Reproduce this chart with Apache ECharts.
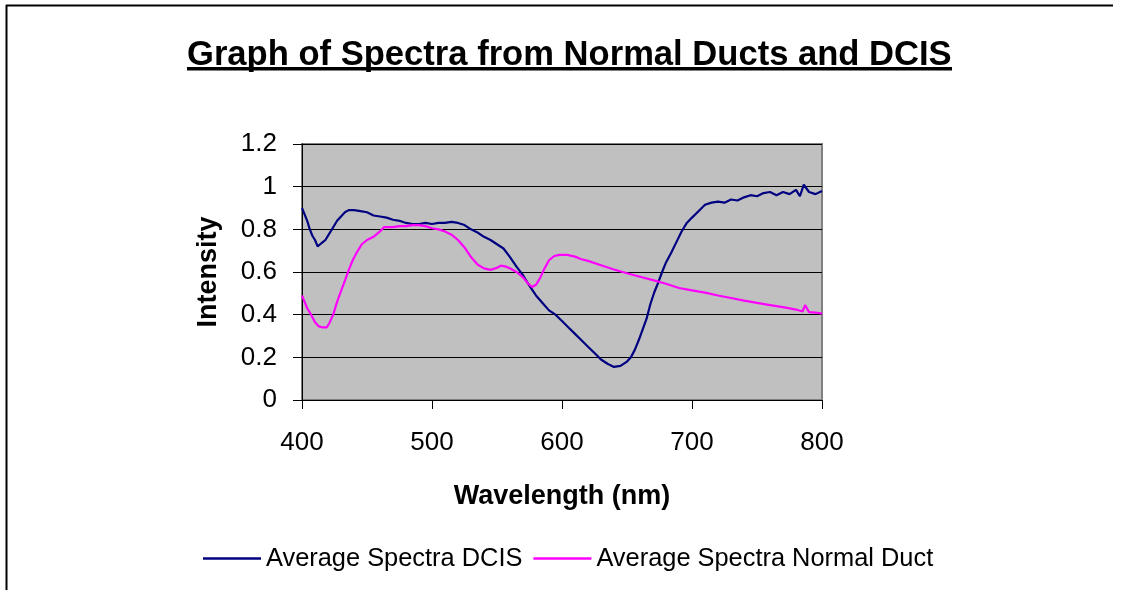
<!DOCTYPE html>
<html>
<head>
<meta charset="utf-8">
<script src="https://cdn.jsdelivr.net/npm/echarts@6/dist/echarts.min.js"></script>
<style>
html,body{margin:0;padding:0;background:#fff;}
#chart{width:1123px;height:590px;}
</style>
</head>
<body>
<div id="chart"></div>
<script>
// ---- Data ----
var titleText = 'Graph of Spectra from Normal Ducts and DCIS';
var xAxisTitle = 'Wavelength (nm)';
var yAxisTitle = 'Intensity';
var seriesNames = ['Average Spectra DCIS', 'Average Spectra Normal Duct'];
var xTicks = [400, 500, 600, 700, 800];
var yTicks = [0, 0.2, 0.4, 0.6, 0.8, 1, 1.2];

var dcisWavelength = [400,402,404,406,408,410,412,414,416,418,421,424,427,430,433,436,440,445,450,455,460,465,470,475,480,485,490,495,500,505,510,515,520,525,530,535,540,545,550,555,560,565,570,575,580,585,590,595,600,605,610,615,620,625,630,635,640,645,650,653,656,659,662,665,668,671,674,677,680,684,688,692,696,700,705,710,715,720,725,730,735,740,745,750,755,760,765,770,775,780,783,786,790,795,800];
var dcisIntensity = [0.90,0.87,0.84,0.80,0.77,0.75,0.72,0.73,0.74,0.75,0.78,0.81,0.84,0.86,0.88,0.89,0.89,0.885,0.88,0.865,0.86,0.855,0.845,0.84,0.83,0.825,0.825,0.83,0.825,0.83,0.83,0.835,0.83,0.82,0.80,0.785,0.765,0.75,0.73,0.71,0.67,0.625,0.585,0.535,0.49,0.455,0.42,0.40,0.37,0.34,0.31,0.28,0.25,0.22,0.19,0.17,0.155,0.16,0.18,0.20,0.235,0.28,0.33,0.38,0.45,0.505,0.55,0.60,0.645,0.69,0.74,0.79,0.83,0.855,0.885,0.915,0.925,0.93,0.925,0.94,0.935,0.95,0.96,0.955,0.97,0.975,0.96,0.975,0.965,0.985,0.955,1.01,0.975,0.965,0.98];

var normalWavelength = [400,402,404,407,410,413,416,419,421,424,427,430,433,436,439,442,446,450,455,460,463,470,475,480,485,490,495,500,505,510,515,520,525,530,535,540,545,550,553,557,560,565,570,574,577,580,583,586,590,594,598,604,610,615,620,630,640,650,660,670,680,690,700,710,720,730,740,750,760,770,780,785,787,790,795,800];
var normalIntensity = [0.49,0.46,0.43,0.40,0.365,0.345,0.34,0.34,0.36,0.40,0.46,0.51,0.56,0.61,0.655,0.69,0.73,0.75,0.765,0.79,0.81,0.81,0.815,0.815,0.82,0.82,0.815,0.805,0.80,0.79,0.775,0.75,0.715,0.67,0.635,0.617,0.61,0.62,0.63,0.625,0.617,0.60,0.575,0.545,0.53,0.54,0.57,0.61,0.655,0.675,0.68,0.68,0.672,0.66,0.652,0.632,0.612,0.594,0.578,0.562,0.545,0.525,0.514,0.503,0.49,0.478,0.466,0.455,0.445,0.435,0.424,0.415,0.445,0.412,0.41,0.405];

function pairs(xs, ys){ var out=[]; for(var i=0;i<xs.length;i++){ out.push([xs[i], ys[i]]); } return out; }

var FONT = 'Arial, "Liberation Sans", sans-serif';
var chart = echarts.init(document.getElementById('chart'), null, {renderer:'canvas'});
chart.setOption({
  animation: false,
  backgroundColor: '#ffffff',
  title: {
    text: titleText,
    left: 182,
    top: 33,
    textStyle: {fontFamily: FONT, fontSize: 34.6, fontWeight: 'bold', color: '#000'}
  },
  legend: {
    bottom: 14,
    left: 198,
    icon: 'rect',
    itemWidth: 58,
    itemHeight: 2.5,
    itemGap: 11,
    textStyle: {fontFamily: FONT, fontSize: 25.4, color: '#000'},
    data: seriesNames
  },
  grid: {
    left: 302, right: 301, top: 144, bottom: 190,
    show: true,
    backgroundColor: '#C0C0C0',
    borderColor: '#808080',
    borderWidth: 2
  },
  xAxis: {
    type: 'value',
    min: xTicks[0], max: xTicks[xTicks.length-1], interval: 100,
    name: xAxisTitle,
    nameLocation: 'middle',
    nameGap: 83,
    nameTextStyle: {fontFamily: FONT, fontSize: 27, fontWeight: 'bold', color: '#000'},
    axisLine: {onZero: false, lineStyle: {color: '#000', width: 1}},
    axisTick: {show: true, length: 9, inside: false, lineStyle: {color: '#000'}},
    axisLabel: {fontFamily: FONT, fontSize: 26, color: '#000', margin: 30},
    splitLine: {show: false}
  },
  yAxis: {
    type: 'value',
    min: yTicks[0], max: yTicks[yTicks.length-1], interval: 0.2,
    name: yAxisTitle,
    nameLocation: 'middle',
    nameGap: 80,
    nameTextStyle: {fontFamily: FONT, fontSize: 27, fontWeight: 'bold', color: '#000'},
    axisLine: {show: true, lineStyle: {color: '#000', width: 1}},
    axisTick: {show: true, length: 9, inside: false, lineStyle: {color: '#000'}},
    axisLabel: {fontFamily: FONT, fontSize: 26, color: '#000', margin: 25,
      formatter: function(v){ return String(Math.round(v*10)/10); }},
    splitLine: {show: true, lineStyle: {color: '#000', width: 1}}
  },
  series: [
    {
      name: seriesNames[0], type: 'line', symbol: 'none', showSymbol: false,
      lineStyle: {color: '#000080', width: 2.2}, itemStyle: {color: '#000080'},
      data: pairs(dcisWavelength, dcisIntensity)
    },
    {
      name: seriesNames[1], type: 'line', symbol: 'none', showSymbol: false,
      lineStyle: {color: '#FF00FF', width: 2.2}, itemStyle: {color: '#FF00FF'},
      data: pairs(normalWavelength, normalIntensity)
    }
  ],
  graphic: [
    {type: 'rect', shape: {x: 187, y: 67, width: 765, height: 3.5}, style: {fill: '#000'}},
    {type: 'line', shape: {x1: 6, y1: 5.5, x2: 1113, y2: 5.5}, style: {stroke: '#000', lineWidth: 2}},
    {type: 'line', shape: {x1: 6.5, y1: 5, x2: 6.5, y2: 590}, style: {stroke: '#000', lineWidth: 2}}
  ]
});
</script>
</body>
</html>
